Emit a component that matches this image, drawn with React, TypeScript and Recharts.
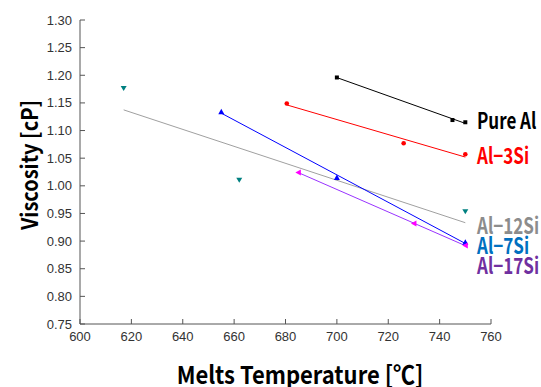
import React from 'react';
import { ComposedChart, Line, Scatter, XAxis, YAxis } from 'recharts';

const pureAlX = [700, 745, 750];
const pureAlY = [1.196, 1.119, 1.115];
const al3SiX = [680.5, 726, 750];
const al3SiY = [1.149, 1.077, 1.057];
const al12SiX = [617, 662, 750];
const al12SiY = [1.176, 1.01, 0.953];
const al7SiX = [655, 700, 750];
const al7SiY = [1.134, 1.015, 0.898];
const al17SiX = [685, 730, 750];
const al17SiY = [1.024, 0.932, 0.892];

const xTicks = [600, 620, 640, 660, 680, 700, 720, 740, 760];
const yTicks = [0.75, 0.8, 0.85, 0.9, 0.95, 1.0, 1.05, 1.1, 1.15, 1.2, 1.25, 1.3];

const toPoints = (xs: number[], ys: number[]) => xs.map((x, i) => ({ x, y: ys[i] }));

// least-squares trend line, drawn from the first to the last x
const fitLine = (xs: number[], ys: number[]) => {
  const n = xs.length;
  const mx = xs.reduce((a, b) => a + b, 0) / n;
  const my = ys.reduce((a, b) => a + b, 0) / n;
  let sxy = 0;
  let sxx = 0;
  xs.forEach((x, i) => {
    sxy += (x - mx) * (ys[i] - my);
    sxx += (x - mx) * (x - mx);
  });
  const slope = sxy / sxx;
  const x0 = Math.min(...xs);
  const x1 = Math.max(...xs);
  return [
    { x: x0, y: my + slope * (x0 - mx) },
    { x: x1, y: my + slope * (x1 - mx) },
  ];
};

const AXIS = '#555';
const TICK_FONT = 'Liberation Sans, Arial, sans-serif';
const TITLE_FONT = '"Noto Sans CJK KR", "Noto Sans", sans-serif';

const YTick = (p: any) => (
  <g>
    <line x1={p.x + 8} x2={p.x + 13} y1={p.y} y2={p.y} stroke={AXIS} />
    <text x={p.x} y={p.y} dy="0.35em" textAnchor="end" fontSize={13} fill="#333" fontFamily={TICK_FONT}>
      {Number(p.payload.value).toFixed(2)}
    </text>
  </g>
);

const XTick = (p: any) => (
  <g>
    <line x1={p.x} x2={p.x} y1={p.y - 8} y2={p.y - 13} stroke={AXIS} />
    <text x={p.x} y={p.y} dy="0.71em" textAnchor="middle" fontSize={13} fill="#333" fontFamily={TICK_FONT}>
      {p.payload.value}
    </text>
  </g>
);

const Square = ({ cx, cy }: any) => <rect x={cx - 2} y={cy - 2} width={4} height={4} fill="#000" />;
const Dot = ({ cx, cy }: any) => <circle cx={cx} cy={cy} r={2.3} fill="#ff0000" />;
const TriDown = ({ cx, cy }: any) => (
  <polygon points={`${cx - 3},${cy - 2.5} ${cx + 3},${cy - 2.5} ${cx},${cy + 2.5}`} fill="#008080" />
);
const TriUp = ({ cx, cy }: any) => (
  <polygon points={`${cx - 3},${cy + 2.5} ${cx + 3},${cy + 2.5} ${cx},${cy - 3}`} fill="#0000ff" />
);
const TriLeft = ({ cx, cy }: any) => (
  <polygon points={`${cx - 3},${cy} ${cx + 2.5},${cy - 3} ${cx + 2.5},${cy + 3}`} fill="#ff00ff" />
);

const labels = [
  { text: 'Pure Al', color: '#000000', top: 120 },
  { text: 'Al-3Si', color: '#ff0000', top: 155 },
  { text: 'Al-12Si', color: '#8c8c8c', top: 225 },
  { text: 'Al-7Si', color: '#0070c0', top: 245 },
  { text: 'Al-17Si', color: '#7030a0', top: 265 },
];

export default function App() {
  return (
    <div style={{ position: 'absolute', left: 0, top: 0, width: 541, height: 387, background: '#fff', overflow: 'hidden' }}>
      <ComposedChart width={541} height={387} margin={{ top: 20, right: 50, left: 0, bottom: 33 }}>
        <XAxis
          type="number"
          dataKey="x"
          domain={[600, 760]}
          ticks={xTicks}
          height={30}
          tickSize={0}
          tickMargin={8}
          tick={<XTick />}
          stroke={AXIS}
          allowDataOverflow
        />
        <YAxis
          type="number"
          dataKey="y"
          domain={[0.75, 1.3]}
          ticks={yTicks}
          width={80}
          tickSize={0}
          tickMargin={8}
          tick={<YTick />}
          stroke={AXIS}
          allowDataOverflow
        />
        <Line data={fitLine(pureAlX, pureAlY)} dataKey="y" stroke="#000" strokeWidth={1} dot={false} isAnimationActive={false} />
        <Line data={fitLine(al3SiX, al3SiY)} dataKey="y" stroke="#ff0000" strokeWidth={1} dot={false} isAnimationActive={false} />
        <Line data={fitLine(al12SiX, al12SiY)} dataKey="y" stroke="#a0a0a0" strokeWidth={1} dot={false} isAnimationActive={false} />
        <Line data={fitLine(al7SiX, al7SiY)} dataKey="y" stroke="#0000ff" strokeWidth={1} dot={false} isAnimationActive={false} />
        <Line data={fitLine(al17SiX, al17SiY)} dataKey="y" stroke="#9933ff" strokeWidth={1} dot={false} isAnimationActive={false} />
        <Scatter data={toPoints(pureAlX, pureAlY)} dataKey="y" shape={<Square />} isAnimationActive={false} />
        <Scatter data={toPoints(al3SiX, al3SiY)} dataKey="y" shape={<Dot />} isAnimationActive={false} />
        <Scatter data={toPoints(al12SiX, al12SiY)} dataKey="y" shape={<TriDown />} isAnimationActive={false} />
        <Scatter data={toPoints(al7SiX, al7SiY)} dataKey="y" shape={<TriUp />} isAnimationActive={false} />
        <Scatter data={toPoints(al17SiX, al17SiY)} dataKey="y" shape={<TriLeft />} isAnimationActive={false} />
      </ComposedChart>
      {labels.map((l) => (
        <div
          key={l.text}
          style={{
            position: 'absolute',
            left: 477,
            top: l.top - 8,
            height: 16,
            lineHeight: '16px',
            fontSize: 17,
            fontWeight: 700,
            color: l.color,
            fontFamily: TITLE_FONT,
            whiteSpace: 'nowrap',
            transform: 'scaleY(1.3)',
            transformOrigin: 'left center',
          }}
        >
          {l.text.replace('-', '\u2212')}
        </div>
      ))}
      <div
        style={{
          position: 'absolute',
          left: 29,
          top: 165,
          lineHeight: '20px',
          transform: 'translate(-50%, -50%) rotate(-90deg) scaleY(1.12)',
          fontSize: 20,
          fontWeight: 700,
          fontFamily: TITLE_FONT,
          whiteSpace: 'nowrap',
        }}
      >
        Viscosity [cP]
      </div>
      <div
        style={{
          position: 'absolute',
          left: 300,
          top: 373,
          lineHeight: '20px',
          transform: 'translate(-50%, -50%) scaleY(1.12)',
          fontSize: 22,
          fontWeight: 700,
          fontFamily: TITLE_FONT,
          whiteSpace: 'nowrap',
        }}
      >
        Melts Temperature [℃]
      </div>
    </div>
  );
}
